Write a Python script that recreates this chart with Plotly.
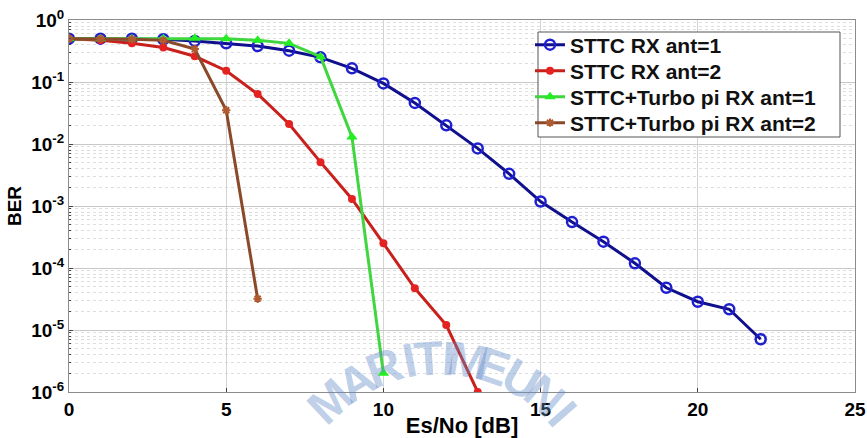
import math
import plotly.graph_objects as go

# Es/No sweep points (dB)
snr_a = list(range(0, 23))
snr_b = list(range(0, 14))
snr_c = list(range(0, 11))
snr_d = list(range(0, 7))

# BER curves
ber_sttc_rx1 = [0.5, 0.5, 0.5, 0.49, 0.46, 0.42, 0.38, 0.32, 0.25, 0.166, 0.095,
                0.046, 0.020, 0.0085, 0.0033, 0.00118, 5.5e-4, 2.66e-4, 1.19e-4,
                4.8e-5, 2.86e-5, 2.16e-5, 7.1e-6]
ber_sttc_rx2 = [0.5, 0.47, 0.42, 0.36, 0.26, 0.152, 0.064, 0.021, 0.0051, 0.0013,
                2.5e-4, 4.7e-5, 1.2e-5, 1.0e-6]
ber_turbo_rx1 = [0.5, 0.5, 0.5, 0.5, 0.51, 0.5, 0.47, 0.42, 0.256, 0.013, 2.0e-6]
ber_turbo_rx2 = [0.5, 0.5, 0.49, 0.47, 0.34, 0.035, 3.2e-5]

series_names = ["STTC RX ant=1", "STTC RX ant=2",
                "STTC+Turbo pi RX ant=1", "STTC+Turbo pi RX ant=2"]

y_tickvals = [1e-6, 1e-5, 1e-4, 1e-3, 1e-2, 1e-1, 1e0]
y_ticktext = ["10<sup>-6</sup>", "10<sup>-5</sup>", "10<sup>-4</sup>", "10<sup>-3</sup>",
              "10<sup>-2</sup>", "10<sup>-1</sup>", "10<sup>0</sup>"]
x_tickvals = [0, 5, 10, 15, 20, 25]

# faint arched watermark lettering and the tilt (deg) of each letter along its arc
watermark_letters = ["M", "A", "R", "I", "T", "I", "M", "E", "U", "N", "I"]
watermark_angles = [-43, -31, -20, -11, -4, 3, 10, 19, 30, 40, 49]

FONT = "Liberation Sans, Arial, sans-serif"
W, H = 867, 438
L, R, T, B = 69, 12, 20, 46
PW, PH = W - L - R, H - T - B


def paper_x(px):
    return (px - L) / PW


def paper_y(py):
    return (H - B - py) / PH


styles = [
    dict(line=dict(color="#10108c", width=3),
         marker=dict(symbol="circle-open", size=10, color="#1f1fd0", line=dict(width=2.5))),
    dict(line=dict(color="#c8201c", width=3),
         marker=dict(symbol="circle", size=8, color="#e52222")),
    dict(line=dict(color="#3fd63f", width=3),
         marker=dict(symbol="triangle-up", size=10, color="#22ee22")),
    dict(line=dict(color="#8a4a2a", width=3),
         marker=dict(symbol="asterisk-open", size=7, color="#b05a30",
                     line=dict(width=2, color="#b05a30"))),
]
xs = [snr_a, snr_b, snr_c, snr_d]
ys = [ber_sttc_rx1, ber_sttc_rx2, ber_turbo_rx1, ber_turbo_rx2]
legend_ids = ["legend", "legend2", "legend3", "legend4"]

fig = go.Figure()
for x, y, name, st, lg in zip(xs, ys, series_names, styles, legend_ids):
    fig.add_trace(go.Scatter(x=x, y=y, name=name, mode="lines+markers", legend=lg, **st))

# one legend per series so the rows can sit tightly inside a shared frame
row_centres = [45, 71, 97, 123]
legend_layout = {}
for lg, yc in zip(legend_ids, row_centres):
    legend_layout[lg] = dict(
        x=paper_x(530), y=paper_y(yc), xanchor="left", yanchor="middle",
        bgcolor="rgba(0,0,0,0)", borderwidth=0,
        font=dict(family=FONT, size=21, color="#111111", weight="bold"),
        itemwidth=30,
    )

shapes = [dict(
    type="rect", xref="paper", yref="paper",
    x0=paper_x(538), x1=paper_x(840), y0=paper_y(137), y1=paper_y(32),
    fillcolor="white", line=dict(color="#555555", width=1), layer="above",
)]

cx, cy, radius = 440.0, 520.0, 162.0
annotations = []
for ch, ang in zip(watermark_letters, watermark_angles):
    px = cx + radius * math.sin(math.radians(ang))
    py = cy - radius * math.cos(math.radians(ang))
    annotations.append(dict(
        x=paper_x(px), y=paper_y(py), xref="paper", yref="paper",
        text=ch, showarrow=False, textangle=ang,
        font=dict(family=FONT, size=48, color="rgba(100,140,200,0.42)", weight="bold"),
        xanchor="center", yanchor="middle",
    ))

fig.update_layout(
    width=W, height=H,
    margin=dict(l=L, r=R, t=T, b=B),
    paper_bgcolor="white", plot_bgcolor="white",
    font=dict(family=FONT, size=18, color="black", weight="bold"),
    showlegend=True,
    shapes=shapes,
    annotations=annotations,
    **legend_layout,
)

fig.update_xaxes(
    range=[0, 25], tickvals=x_tickvals, ticks="inside", ticklen=4,
    showgrid=True, gridcolor="#d4d4d4", gridwidth=1,
    showline=True, linecolor="#8c8c8c", mirror=True, zeroline=False,
    automargin=False,
    tickfont=dict(family=FONT, size=19, weight="bold"),
    title=dict(text="Es/No [dB]", font=dict(family=FONT, size=22, weight="bold"), standoff=0),
)
fig.update_yaxes(
    type="log", range=[-6, 0], tickvals=y_tickvals, ticktext=y_ticktext,
    ticks="inside", ticklen=4,
    showgrid=True, gridcolor="#c8c8c8", gridwidth=1,
    minor=dict(showgrid=True, gridcolor="#dedede", griddash="dot", ticks="inside", ticklen=2,
               dtick="D1"),
    showline=True, linecolor="#8c8c8c", mirror=True, zeroline=False,
    automargin=False,
    tickfont=dict(family=FONT, size=19, weight="bold"),
    title=dict(text="BER", font=dict(family=FONT, size=19, weight="bold"), standoff=4),
)

fig.write_html("out.html")
